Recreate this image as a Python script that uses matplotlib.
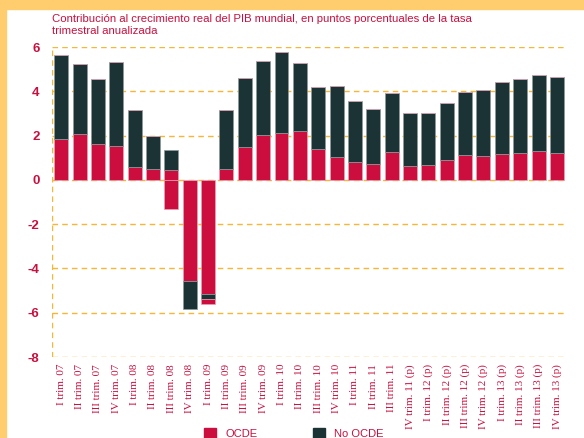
import matplotlib.pyplot as plt
from matplotlib.patches import Rectangle, Patch
import numpy as np

# trimestres
trimestres = ["I trim. 07", "II trim. 07", "III trim. 07", "IV trim. 07",
              "I trim. 08", "II trim. 08", "III trim. 08", "IV trim. 08",
              "I trim. 09", "II trim. 09", "III trim. 09", "IV trim. 09",
              "I trim. 10", "II trim. 10", "III trim. 10", "IV trim. 10",
              "I trim. 11", "II trim. 11", "III trim. 11",
              "IV trim. 11 (p)", "I trim. 12 (p)", "II trim. 12 (p)",
              "III trim. 12 (p)", "IV trim. 12 (p)", "I trim. 13 (p)",
              "II trim. 13 (p)", "III trim. 13 (p)", "IV trim. 13 (p)"]

ocde = [1.83, 2.05, 1.64, 1.53, 0.60, 0.48, 0.45, -4.58,
        -5.14, 0.51, 1.49, 2.01, 2.13, 2.20, 1.38, 1.02,
        0.81, 0.72, 1.26, 0.62, 0.65, 0.89, 1.11, 1.07,
        1.16, 1.23, 1.32, 1.21]
no_ocde = [3.82, 3.20, 2.92, 3.81, 2.54, 1.50, 0.88, -1.25,
           -0.24, 2.63, 3.10, 3.35, 3.65, 3.08, 2.83, 3.23,
           2.76, 2.49, 2.67, 2.39, 2.38, 2.59, 2.87, 3.00,
           3.24, 3.33, 3.40, 3.44]
# tramo rojo adicional (parte negativa que aparece en el original)
resto = [0, 0, 0, 0, 0, 0, -1.32, 0,
         -0.24, 0, 0, 0, 0, 0, 0, 0,
         0, 0, 0, 0, 0, 0, 0, 0,
         0, 0, 0, 0]

rojo = "#CC0E3F"
oscuro = "#1B3335"
naranja = "#F7B733"
texto = "#C8103E"
sans = ["Liberation Sans", "DejaVu Sans"]
serif = ["Liberation Serif", "DejaVu Serif"]

fig = plt.figure(figsize=(5.84, 4.38), dpi=100)
fig.patch.set_facecolor("white")
# marco naranja
fig.patches.append(Rectangle((0, 1 - 9 / 438), 1, 9 / 438, transform=fig.transFigure,
                             color="#FFCC6E", zorder=0))
fig.patches.append(Rectangle((0, 0), 6 / 584, 1, transform=fig.transFigure,
                             color="#FFCC6E", zorder=0))

ax = fig.add_axes([52 / 584, 1 - 357 / 438, (567 - 52) / 584, 310 / 438])

x = np.arange(len(trimestres))
pos = np.zeros(len(x))
neg = np.zeros(len(x))
for serie, color in [(ocde, rojo), (no_ocde, oscuro), (resto, rojo)]:
    v = np.array(serie)
    base = np.where(v >= 0, pos, neg)
    ec = "#E9A0B2" if color == rojo else "#8C9A9A"
    ax.bar(x, v, bottom=base, width=0.76, color=color, edgecolor=ec,
           linewidth=0.5, zorder=3)
    pos = pos + np.where(v >= 0, v, 0)
    neg = neg + np.where(v < 0, v, 0)

ax.set_xlim(-0.5, len(x) - 0.45)
ax.set_ylim(-8, 6)
ax.set_yticks(range(-8, 7, 2))
for yv in range(-8, 7, 2):
    ax.axhline(yv, color=naranja, linestyle=(0, (4, 3)), linewidth=1, zorder=1)
ax.axvline(-0.5, color=naranja, linestyle=(0, (4, 3)), linewidth=1, zorder=1)
for s in ax.spines.values():
    s.set_visible(False)
ax.tick_params(length=0)
ax.tick_params(axis="y", pad=9)
ax.set_yticklabels([str(v) for v in range(-8, 7, 2)], color=texto,
                   fontweight="bold", fontsize=9.5, family=sans)
ax.set_xticks(x)
ax.set_xticklabels(trimestres, rotation=90, color=texto, fontsize=8,
                   family=serif, va="top")
ax.tick_params(axis="x", pad=5)

fig.text(52 / 584, 1 - 14 / 438,
         "Contribución al crecimiento real del PIB mundial, en puntos porcentuales de la tasa\ntrimestral anualizada",
         color=texto, fontsize=8.2, family=sans, va="top", ha="left", linespacing=1.3)

fig.legend(handles=[Patch(color=rojo, label="OCDE"), Patch(color=oscuro, label="No OCDE")],
           loc="upper left", bbox_to_anchor=(194 / 584, 1 - 418 / 438), ncol=2,
           frameon=False, handlelength=1.1, handleheight=1.1, columnspacing=5,
           prop={"family": sans, "size": 8}, labelcolor=texto)

fig.savefig("out.png", dpi=100)
